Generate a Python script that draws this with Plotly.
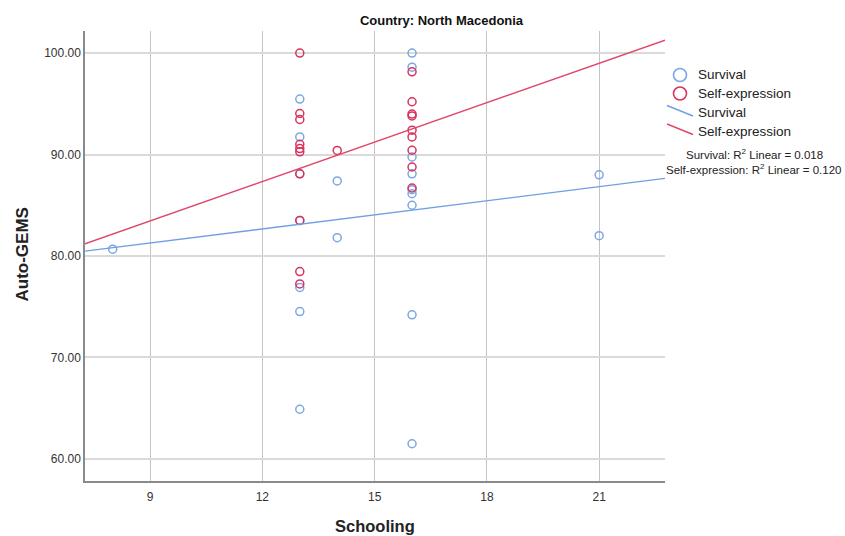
import plotly.graph_objects as go
import numpy as np

# ---- data ----
surv_x = [8, 13, 13, 13, 13, 13, 13, 13, 14, 14, 16, 16, 16, 16, 16, 16, 16, 16, 16, 21, 21]
surv_y = [80.67, 95.46, 91.73, 88.10, 83.50, 76.90, 74.52, 64.90, 87.40, 81.80,
          100.00, 98.60, 89.76, 88.10, 86.54, 86.14, 85.00, 74.20, 61.50, 88.00, 82.00]
self_x = [13, 13, 13, 13, 13, 13, 13, 13, 13, 13, 14, 16, 16, 16, 16, 16, 16, 16, 16, 16]
self_y = [100.00, 94.04, 93.45, 91.00, 90.59, 90.26, 88.10, 83.50, 78.47, 77.25, 90.40,
          98.15, 95.20, 93.98, 93.80, 92.40, 91.73, 90.42, 88.77, 86.70]

# linear fit lines (intercept, slope) as shown in the reference
surv_fit = (77.11, 0.463)
self_fit = (71.80, 1.295)
r2_labels = ["Survival: R<sup>2</sup> Linear = 0.018",
             "Self-expression: R<sup>2</sup> Linear = 0.120"]
group_names = ["Survival", "Self-expression"]

x_ticks = [9, 12, 15, 18, 21]
y_ticks = [60, 70, 80, 90, 100]
x_range = [7.26, 22.76]
y_range = [57.83, 102.17]

BLUE = "#7AA8E6"
RED = "#D8335C"
BLUE_LINE = "#6F9FE3"
RED_LINE = "#E0476B"
FONT = "Liberation Sans, Arial, sans-serif"

W, H = 845, 536
L, R, T, B = 85, 180, 31, 55
PW, PH = W - L - R, H - T - B


def px(xp):
    return (xp - L) / PW


def py(yp):
    return (H - B - yp) / PH


fig = go.Figure()

fig.add_trace(go.Scatter(x=surv_x, y=surv_y, mode="markers", name="Survival",
                         marker=dict(symbol="circle-open", size=8, color=BLUE,
                                     line=dict(width=1.5, color=BLUE)),
                         showlegend=False))
fig.add_trace(go.Scatter(x=self_x, y=self_y, mode="markers", name="Self-expression",
                         marker=dict(symbol="circle-open", size=8, color=RED,
                                     line=dict(width=1.5, color=RED)),
                         showlegend=False))

xs = np.array(x_range)
fig.add_trace(go.Scatter(x=xs, y=surv_fit[0] + surv_fit[1] * xs, mode="lines",
                         line=dict(color=BLUE_LINE, width=1.3), showlegend=False,
                         hoverinfo="skip"))
fig.add_trace(go.Scatter(x=xs, y=self_fit[0] + self_fit[1] * xs, mode="lines",
                         line=dict(color=RED_LINE, width=1.5), showlegend=False,
                         hoverinfo="skip"))

# ---- custom legend (SPSS style) ----
shapes = []
annotations = []
legend_rows = [
    ("circle", BLUE, group_names[0], 75),
    ("circle", RED, group_names[1], 93.5),
    ("line", BLUE_LINE, group_names[0], 112.5),
    ("line", RED_LINE, group_names[1], 131),
]
for kind, col, label, yc in legend_rows:
    if kind == "circle":
        shapes.append(dict(type="circle", xref="paper", yref="paper",
                           xsizemode="pixel", ysizemode="pixel",
                           xanchor=px(680), yanchor=py(yc),
                           x0=-6.5, x1=6.5, y0=-6.5, y1=6.5,
                           line=dict(color=col, width=1.6)))
    else:
        shapes.append(dict(type="line", xref="paper", yref="paper",
                           x0=px(667), x1=px(693), y0=py(yc - 7), y1=py(yc + 3.5),
                           line=dict(color=col, width=1.4)))
    annotations.append(dict(x=px(696), y=py(yc), xref="paper", yref="paper",
                            text=label, showarrow=False, xanchor="left",
                            yanchor="middle",
                            font=dict(size=13.5, color="#222", family=FONT)))

for i, (txt, yc) in enumerate(zip(r2_labels, [154, 168.5])):
    annotations.append(dict(x=px(754), y=py(yc), xref="paper", yref="paper",
                            text=txt, showarrow=False, xanchor="center",
                            yanchor="middle",
                            font=dict(size=11.5, color="#222", family=FONT)))

# axis titles as annotations placed at the reference positions
annotations.append(dict(x=px(375), y=py(526), xref="paper", yref="paper",
                        text="<b>Schooling</b>", showarrow=False,
                        xanchor="center", yanchor="middle",
                        font=dict(size=16.5, color="#222", family=FONT)))
annotations.append(dict(x=px(21.5), y=py(255), xref="paper", yref="paper",
                        text="<b>Auto-GEMS</b>", showarrow=False, textangle=-90,
                        xanchor="center", yanchor="middle",
                        font=dict(size=17, color="#222", family=FONT)))

fig.update_layout(
    width=W, height=H,
    margin=dict(l=L, r=R, t=T, b=B, pad=0, autoexpand=False),
    paper_bgcolor="white", plot_bgcolor="white",
    title=dict(text="<b>Country: North Macedonia</b>", x=px(441.5), xanchor="center",
               y=1 - 20.5 / H, yanchor="middle", xref="paper",
               font=dict(size=13, color="#111", family=FONT)),
    shapes=shapes,
    annotations=annotations,
    showlegend=False,
    font=dict(family=FONT),
)
fig.update_xaxes(range=x_range, tickvals=x_ticks, ticks="", showgrid=True,
                 gridcolor="#c4c4c4", gridwidth=1.3, zeroline=False,
                 showline=True, linecolor="#8a8a8a", linewidth=1.5,
                 automargin=False, ticklabelstandoff=4,
                 tickfont=dict(size=12, color="#333", family=FONT))
fig.update_yaxes(range=y_range, tickvals=y_ticks, tickformat=".2f", ticks="",
                 showgrid=True, gridcolor="#dadada", gridwidth=2, zeroline=False,
                 showline=True, linecolor="#8a8a8a", linewidth=1.5,
                 automargin=False,
                 tickfont=dict(size=12, color="#333", family=FONT))

fig.write_html("out.html")
